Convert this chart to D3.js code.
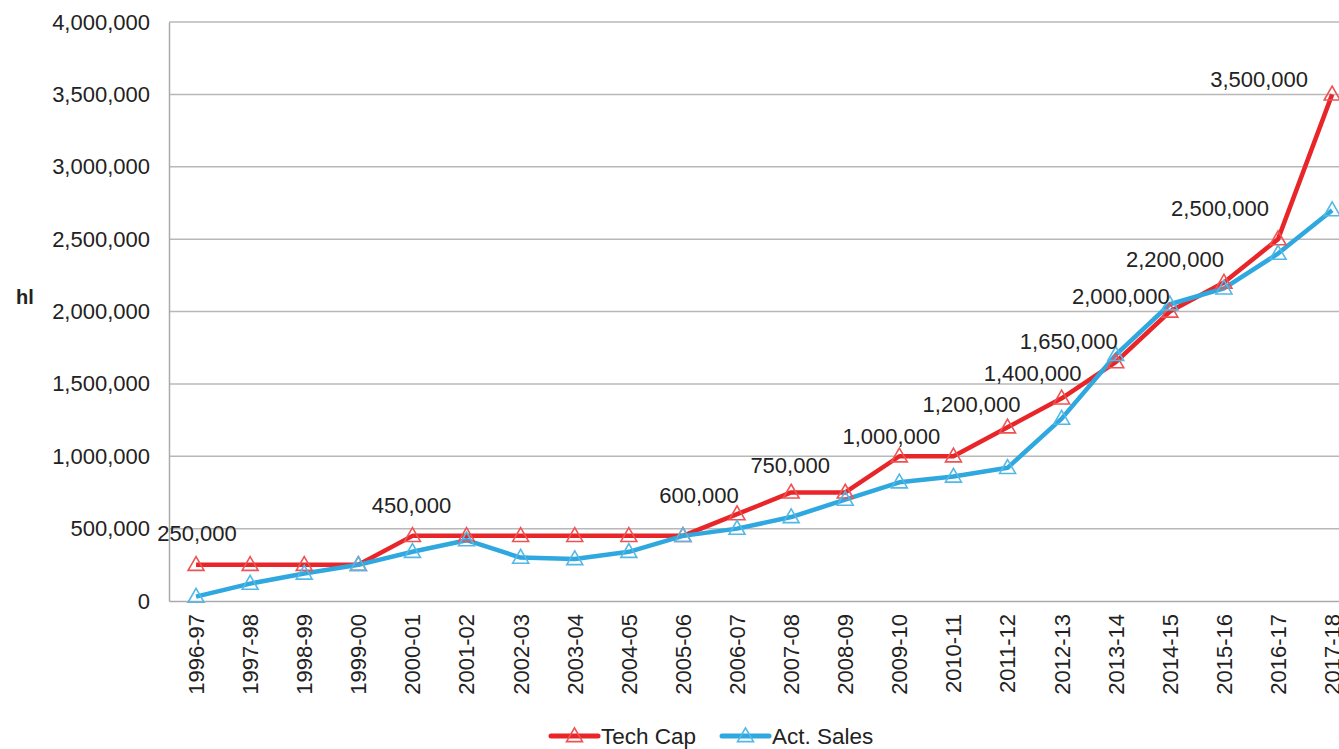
<!DOCTYPE html>
<html>
<head>
<meta charset="utf-8">
<script src="https://cdn.jsdelivr.net/npm/d3@7"></script>
<style>
  body { margin: 0; background: #fff; }
  svg { font-family: "Liberation Sans", Arial, sans-serif; }
</style>
</head>
<body>
<div id="chart"></div>
<script>
var years = ["1996-97","1997-98","1998-99","1999-00","2000-01","2001-02","2002-03","2003-04",
  "2004-05","2005-06","2006-07","2007-08","2008-09","2009-10","2010-11","2011-12","2012-13",
  "2013-14","2014-15","2015-16","2016-17","2017-18"];
var techCap = [250000,250000,250000,250000,450000,450000,450000,450000,450000,450000,600000,
  750000,750000,1000000,1000000,1200000,1400000,1650000,2000000,2200000,2500000,3500000];
var actSales = [30000,120000,190000,250000,340000,420000,300000,290000,340000,450000,500000,
  580000,700000,820000,860000,920000,1260000,1700000,2050000,2160000,2400000,2700000];
var yTicks = [0,500000,1000000,1500000,2000000,2500000,3000000,3500000,4000000];
// which tech cap points carry a value label
var labelIdx = [0,4,10,11,13,15,16,17,18,19,20,21];

// label placement relative to the point (hand-tuned like the original)
var labelDx = [1,-1,-38,-1,-8,-36,-29,-47,-49,-49,-58,-73];
var labelDy = [-32,-31,-19,-27,-20,-23,-25,-21,-15,-23,-31,-15];

var W = 1339, H = 749;
var plotLeft = 169, plotTop = 22, plotBottom = 601, band = 54.1;
var fontSize = "22px";

var svg = d3.select("#chart").append("svg")
    .attr("width", W).attr("height", H);

var x = d3.scaleBand().domain(years).range([plotLeft, plotLeft + band * years.length]);
var y = d3.scaleLinear().domain([0, 4000000]).range([plotBottom, plotTop]);
var cx = function(d) { return x(d) + x.bandwidth() / 2; };

// gridlines
svg.append("g").selectAll("line")
  .data(yTicks.filter(function(d) { return d > 0; }))
  .enter().append("line")
    .attr("x1", plotLeft).attr("x2", W)
    .attr("y1", function(d) { return y(d); })
    .attr("y2", function(d) { return y(d); })
    .attr("stroke", "#b8b8b8")
    .attr("stroke-width", 1.5);

// axes
var yAxis = d3.axisLeft(y).tickValues(yTicks).tickSize(0).tickPadding(19)
    .tickFormat(d3.format(","));
var gy = svg.append("g").attr("transform", "translate(" + plotLeft + ",0)").call(yAxis);
gy.select(".domain").attr("stroke", "#aaaaaa").attr("stroke-width", 1.5);
gy.selectAll("text").style("font-size", fontSize).attr("fill", "#222");

var xAxis = d3.axisBottom(x).tickSize(0);
var gx = svg.append("g").attr("transform", "translate(0," + plotBottom + ")").call(xAxis);
gx.select(".domain").attr("stroke", "#aaaaaa").attr("stroke-width", 1.5);
gx.selectAll("text")
    .style("font-size", fontSize).attr("fill", "#222")
    .attr("transform", "rotate(-90)")
    .attr("x", -13).attr("y", 0).attr("dy", "0.36em")
    .style("text-anchor", "end");

svg.append("text")
    .attr("x", 25).attr("y", 304)
    .attr("text-anchor", "middle")
    .style("font-size", "20px").style("font-weight", "bold").attr("fill", "#222")
    .text("hl");

var series = [
  { name: "Tech Cap", values: techCap, color: "#e8262a", marker: "#ef5252" },
  { name: "Act. Sales", values: actSales, color: "#2ea8df", marker: "#52b8e8" }
];

var line = d3.line()
    .x(function(d, i) { return cx(years[i]); })
    .y(function(d) { return y(d); });

var tri = d3.symbol().type(d3.symbolTriangle).size(110);

series.forEach(function(s) {
  svg.append("path")
      .attr("d", line(s.values))
      .attr("fill", "none")
      .attr("stroke", s.color)
      .attr("stroke-width", 4.5)
      .attr("stroke-linejoin", "round");
});
series.forEach(function(s) {
  svg.append("g").selectAll("path")
    .data(s.values).enter().append("path")
      .attr("d", tri)
      .attr("transform", function(d, i) {
        return "translate(" + cx(years[i]) + "," + (y(d) + 1) + ")"; })
      .attr("fill", "none")
      .attr("stroke", s.marker)
      .attr("stroke-width", 1.6);
});

// value labels
svg.append("g").selectAll("text")
  .data(labelIdx).enter().append("text")
    .attr("x", function(d, i) { return cx(years[d]) + labelDx[i]; })
    .attr("y", function(d, i) { return y(techCap[d]) + labelDy[i]; })
    .attr("dy", "0.36em")
    .attr("text-anchor", "middle")
    .style("font-size", fontSize).attr("fill", "#222")
    .text(function(d) { return d3.format(",")(techCap[d]); });

// legend
var legX = [551, 722];
series.forEach(function(s, i) {
  var g = svg.append("g").attr("transform", "translate(" + legX[i] + ",736)");
  g.append("line").attr("x1", 0).attr("x2", 47).attr("y1", 0).attr("y2", 0)
    .attr("stroke", s.color).attr("stroke-width", 5).attr("stroke-linecap", "round");
  g.append("path").attr("d", tri).attr("transform", "translate(23.5,1)")
    .attr("fill", "none").attr("stroke", s.marker).attr("stroke-width", 1.6);
  g.append("text").attr("x", 50).attr("y", 0).attr("dy", "0.36em")
    .style("font-size", "22.5px").attr("fill", "#222").text(s.name);
});
</script>
</body>
</html>
